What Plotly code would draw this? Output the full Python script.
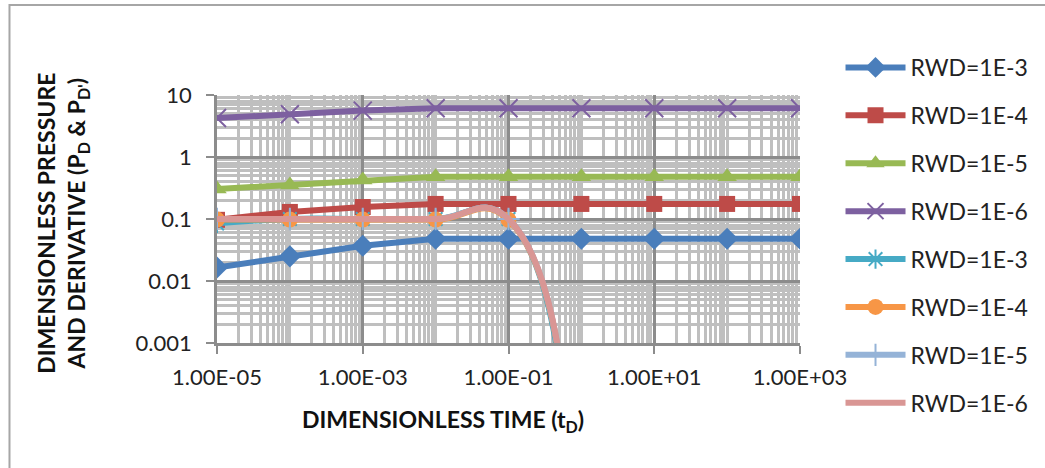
import plotly.graph_objects as go

# ---------------- data ----------------
t_d = [1e-5, 1e-4, 1e-3, 1e-2, 1e-1, 1e0, 1e1, 1e2, 1e3]

pd_rwd_1e3 = [0.0165, 0.025, 0.037, 0.048, 0.048, 0.048, 0.048, 0.048, 0.048]
pd_rwd_1e4 = [0.097, 0.13, 0.156, 0.175, 0.175, 0.175, 0.175, 0.175, 0.175]
pd_rwd_1e5 = [0.305, 0.355, 0.425, 0.48, 0.48, 0.48, 0.48, 0.48, 0.48]
pd_rwd_1e6 = [4.25, 4.9, 5.6, 6.1, 6.1, 6.1, 6.1, 6.1, 6.1]

der_rwd_1e3 = [0.085, 0.1, 0.1, 0.1, 0.1, 1e-27, 1e-40, 1e-55, 1e-70]
der_rwd_1e4 = [0.098, 0.098, 0.098, 0.098, 0.097, 1e-25, 1e-44, 1e-60, 1e-75]
der_rwd_1e5 = [0.1, 0.1, 0.1, 0.1, 0.1, 1e-25, 1e-44, 1e-60, 1e-75]
der_rwd_1e6 = [0.1, 0.1, 0.1, 0.1, 0.1, 1e-25, 1e-45, 1e-60, 1e-75]

x_tickvals = [1e-5, 1e-3, 1e-1, 1e1, 1e3]
x_ticktext = ["1.00E-05", "1.00E-03", "1.00E-01", "1.00E+01", "1.00E+03"]
y_tickvals = [0.001, 0.01, 0.1, 1, 10]
y_ticktext = ["0.001", "0.01", "0.1", "1", "10"]

x_minor = [m * 10.0 ** e for e in range(-5, 3) for m in range(1, 10)]
x_minor = [v for v in x_minor if v not in x_tickvals]
y_minor = [m * 10.0 ** e for e in range(-3, 1) for m in range(2, 10)]

FONT = "Lato"

series = [
    ("RWD=1E-3", pd_rwd_1e3, "#4A7EBB", "diamond", 17, "linear"),
    ("RWD=1E-4", pd_rwd_1e4, "#BE4B48", "square", 16, "linear"),
    ("RWD=1E-5", pd_rwd_1e5, "#98B954", "triangle-up", 17, "linear"),
    ("RWD=1E-6", pd_rwd_1e6, "#7D60A0", "x-thin-open", 18, "linear"),
    ("RWD=1E-3", der_rwd_1e3, "#46AAC5", "asterisk-open", 16, "spline"),
    ("RWD=1E-4", der_rwd_1e4, "#F79646", "circle", 16, "spline"),
    ("RWD=1E-5", der_rwd_1e5, "#95B3D7", "cross-thin-open", 16, "spline"),
    ("RWD=1E-6", der_rwd_1e6, "#D99694", None, 0, "spline"),
]

fig = go.Figure()
for i, (name, ys, color, sym, size, shape) in enumerate(series):
    line = dict(color=color, width=6, shape=shape)
    if shape == "spline":
        line["smoothing"] = 1.3
    if sym is None:
        mode = "lines"
        marker = None
    else:
        mode = "lines+markers"
        marker = dict(symbol=sym, size=size, color=color,
                      line=dict(color=color, width=2 if "open" in sym else 0))
    fig.add_trace(go.Scatter(x=t_d, y=ys, name=name, mode=mode, line=line,
                             marker=marker, legendgroup=f"g{i}"))

# plot area pixels: x 217..807, y 95..343
L, R, T, B = 217, 807, 95, 343
W, H = 1045, 468

def px_x(p):
    return (p - L) / (R - L)

def px_y(p):
    return (B - p) / (B - T)

grid_major = "#8C8C8C"
grid_minor = "#BFBFBF"

fig.update_xaxes(
    type="log", range=[-5, 3],
    tickmode="array", tickvals=x_tickvals, ticktext=x_ticktext,
    showgrid=True, gridcolor=grid_major, gridwidth=2.5,
    showline=True, linecolor=grid_major, linewidth=2.5,
    ticks="outside", ticklen=8, tickwidth=2, tickcolor=grid_major,
    tickfont=dict(family=FONT, size=22, color="#222"),
    ticklabelstandoff=5,
    minor=dict(tickmode="array", tickvals=x_minor, showgrid=True,
               gridcolor=grid_minor, gridwidth=3, ticks=""),
    zeroline=False,
)
fig.update_yaxes(
    type="log", range=[-3, 1],
    tickmode="array", tickvals=y_tickvals, ticktext=y_ticktext,
    showgrid=True, gridcolor=grid_major, gridwidth=2.5,
    showline=True, linecolor=grid_major, linewidth=2.5,
    ticks="outside", ticklen=8, tickwidth=2, tickcolor=grid_major,
    tickfont=dict(family=FONT, size=22, color="#222"),
    ticklabelstandoff=10,
    minor=dict(tickmode="array", tickvals=y_minor, showgrid=True,
               gridcolor=grid_minor, gridwidth=3, ticks=""),
    zeroline=False,
)

fig.update_layout(
    width=W, height=H,
    margin=dict(l=L, r=W - R, t=T, b=H - B, pad=0),
    paper_bgcolor="white", plot_bgcolor="white",
    font=dict(family=FONT, color="#222"),
    showlegend=True,
    legend=dict(x=px_x(848), y=px_y(46), xanchor="left", yanchor="top",
                font=dict(family=FONT, size=23, color="#222"),
                tracegroupgap=15, itemwidth=60, maxheight=430,
                bgcolor="rgba(0,0,0,0)"),
    shapes=[dict(type="rect", xref="paper", yref="paper",
                 x0=px_x(7), x1=px_x(1100), y0=px_y(520), y1=px_y(5),
                 line=dict(color="#A6A6A6", width=2), layer="below")],
    annotations=[
        dict(text="<b>DIMENSIONLESS TIME (t<sub>D</sub>)</b>", xref="paper", yref="paper",
             x=px_x(446), y=px_y(420), xanchor="center", yanchor="middle",
             showarrow=False, font=dict(family=FONT, size=23, color="#111")),
        dict(text="<b>DIMENSIONLESS PRESSURE<br>AND DERIVATIVE (P<sub>D</sub> & P<sub>D'</sub>)</b>",
             xref="paper", yref="paper", x=px_x(60), y=px_y(223),
             xanchor="center", yanchor="middle", textangle=-90,
             showarrow=False, font=dict(family=FONT, size=23, color="#111")),
    ],
)

fig.write_html("out.html")
